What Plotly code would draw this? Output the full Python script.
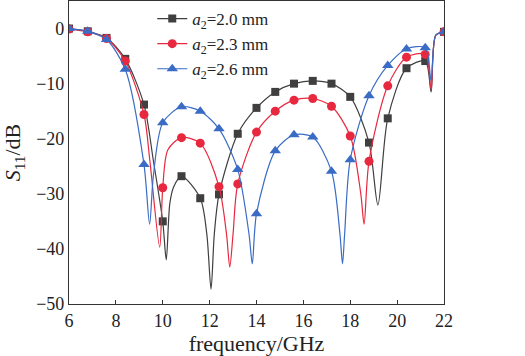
import plotly.graph_objects as go

# ---- data ----
freq_markers = [6.0, 6.8, 7.6, 8.4, 9.2, 10.0, 10.8, 11.6, 12.4, 13.2, 14.0,
                14.8, 15.6, 16.4, 17.2, 18.0, 18.8, 19.6, 20.4, 21.2, 22.0]
s11_a20_markers = [0.0, -0.5, -1.7, -5.5, -13.8, -35.0, -26.8, -30.8, -30.1, -19.1, -14.4,
                   -11.5, -10.0, -9.5, -10.0, -12.4, -20.7, -16.3, -7.2, -5.9, -0.6]
s11_a23_markers = [-0.1, -0.6, -1.8, -5.9, -15.6, -28.9, -19.8, -20.8, -28.7, -28.2, -18.8,
                   -15.0, -13.0, -12.7, -14.1, -19.5, -24.1, -10.4, -5.2, -4.7, -0.6]
s11_a26_markers = [0.0, -0.5, -2.0, -7.4, -24.7, -17.1, -14.2, -15.0, -18.2, -25.6, -33.6,
                   -22.2, -19.3, -19.7, -25.9, -23.8, -12.2, -6.7, -3.7, -3.5, -0.6]

freq_curve_a20 = [6.0, 6.8, 7.6, 8.4, 9.2, 9.6, 10.0, 10.15, 10.3, 10.46, 10.8, 11.6, 11.88,
                  12.06, 12.2, 12.4, 13.2, 14.0, 14.8, 15.6, 16.4, 17.2, 18.0, 18.8, 19.18,
                  19.6, 20.4, 21.2, 21.45, 21.65, 22.0]
s11_curve_a20 = [0.0, -0.5, -1.7, -5.5, -13.8, -24.0, -35.0, -42.0, -31.8, -28.8, -26.8, -30.8,
                 -37.3, -47.3, -37.3, -30.1, -19.1, -14.4, -11.5, -10.0, -9.5, -10.0, -12.4,
                 -20.7, -32.0, -16.3, -7.2, -5.9, -11.5, -1.2, -0.6]

freq_curve_a23 = [6.0, 6.8, 7.6, 8.4, 9.2, 9.45, 9.87, 10.0, 10.22, 10.8, 11.6, 12.4, 12.72,
                  12.86, 13.0, 13.2, 14.0, 14.8, 15.6, 16.4, 17.2, 18.0, 18.45, 18.59, 18.8,
                  19.6, 20.4, 21.2, 21.45, 21.65, 22.0]
s11_curve_a23 = [-0.1, -0.6, -1.8, -5.9, -15.6, -24.0, -39.7, -28.9, -22.0, -19.8, -20.8, -28.7,
                 -37.3, -43.3, -37.3, -28.2, -18.8, -15.0, -13.0, -12.7, -14.1, -19.5, -30.0,
                 -35.5, -24.1, -10.4, -5.2, -4.7, -11.0, -1.2, -0.6]

freq_curve_a26 = [6.0, 6.8, 7.6, 8.4, 9.2, 9.44, 9.6, 10.0, 10.8, 11.6, 12.4, 13.2, 13.68,
                  13.82, 14.0, 14.8, 15.6, 16.4, 17.2, 17.56, 17.67, 17.76, 18.0, 18.8,
                  19.6, 20.4, 21.2, 21.45, 21.65, 22.0]
s11_curve_a26 = [0.0, -0.5, -2.0, -7.4, -24.7, -35.5, -26.7, -17.1, -14.2, -15.0, -18.2, -25.6,
                 -37.3, -42.7, -33.6, -22.2, -19.3, -19.7, -25.9, -37.3, -42.7, -37.3, -23.8,
                 -12.2, -6.7, -3.7, -3.5, -9.5, -1.2, -0.6]

series_names = ["<i>a</i><sub>2</sub>=2.0 mm", "<i>a</i><sub>2</sub>=2.3 mm",
                "<i>a</i><sub>2</sub>=2.6 mm"]
x_ticks = [6, 8, 10, 12, 14, 16, 18, 20, 22]
y_ticks = [0, -10, -20, -30, -40, -50]

colors = ["#3f3f3f", "#e8283e", "#3a6cc6"]
symbols = ["square", "circle", "triangle-up"]
msizes = [8, 9, 10]

curves = [(freq_curve_a20, s11_curve_a20), (freq_curve_a23, s11_curve_a23),
          (freq_curve_a26, s11_curve_a26)]
markers = [s11_a20_markers, s11_a23_markers, s11_a26_markers]

fig = go.Figure()
for i in range(3):
    cx, cy = curves[i]
    fig.add_trace(go.Scatter(x=cx, y=cy, mode="lines", showlegend=False,
                             line=dict(color=colors[i], width=1.2, shape="spline", smoothing=0.8)))
    fig.add_trace(go.Scatter(x=freq_markers, y=markers[i], mode="markers", showlegend=False,
                             marker=dict(color=colors[i], symbol=symbols[i], size=msizes[i])))
for i in range(3):
    fig.add_trace(go.Scatter(x=[None], y=[None], mode="lines+markers", name=series_names[i],
                             line=dict(color=colors[i], width=1.2),
                             marker=dict(color=colors[i], symbol=symbols[i], size=msizes[i])))

fig.update_layout(
    width=525, height=356,
    margin=dict(l=69, r=81, t=1, b=52),
    plot_bgcolor="white", paper_bgcolor="white",
    font=dict(family="Liberation Serif", size=18, color="#222"),
    legend=dict(x=0.222, y=1.0, xanchor="left", yanchor="top", bgcolor="rgba(0,0,0,0)",
                font=dict(size=17), itemwidth=30, tracegroupgap=0),
    xaxis=dict(range=[6, 22], tickvals=x_ticks, ticks="inside", ticklen=4, tickcolor="#333",
               showline=True, mirror=True, linecolor="#333", linewidth=1.2,
               showgrid=False, zeroline=False,
               title=dict(text="frequency/GHz", standoff=4)),
    yaxis=dict(range=[-50, 5], tickvals=y_ticks, ticks="",
               showline=True, mirror=True, linecolor="#333", linewidth=1.2,
               showgrid=False, zeroline=False,
               title=dict(text="<i>S</i><sub>11</sub>/dB", standoff=16)),
)

fig.write_html("out.html", config={"displayModeBar": False},
               post_script="document.body.style.margin='0px';")
